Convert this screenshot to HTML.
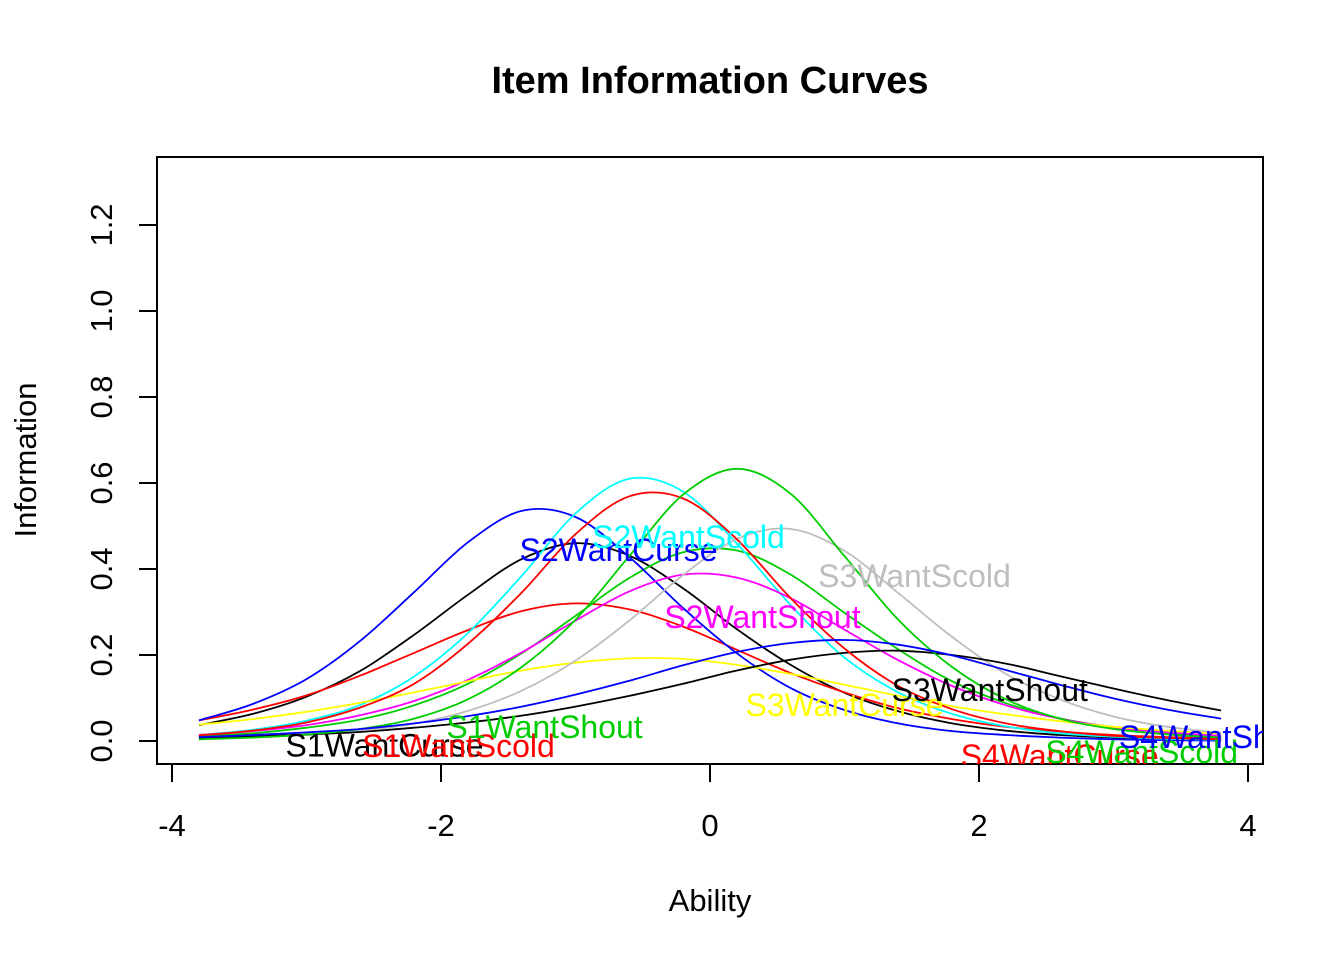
<!DOCTYPE html>
<html><head><meta charset="utf-8"><style>
html,body{margin:0;padding:0;background:#fff;}
svg{display:block;font-family:"Liberation Sans",Arial,sans-serif;}
</style></head><body>
<svg id="chart" width="1344" height="960" viewBox="0 0 1344 960">
<defs><clipPath id="plotclip"><rect x="157" y="157" width="1106" height="607"/></clipPath></defs>
<rect x="0" y="0" width="1344" height="960" fill="#fff"/>
<text x="710" y="93" text-anchor="middle" font-size="38" font-weight="bold">Item Information Curves</text>
<rect x="157" y="157" width="1106" height="607" fill="none" stroke="#000" stroke-width="2"/>
<g id="xaxis"></g>
<g id="yaxis"></g>
<text x="710" y="911" text-anchor="middle" font-size="31">Ability</text>
<text transform="translate(36,460) rotate(-90)" text-anchor="middle" font-size="31">Information</text>
<g id="curves" clip-path="url(#plotclip)"></g>
<g id="labels" clip-path="url(#plotclip)"></g>
</svg>
<script>
const xs = [-3.8,-3.4,-3.0,-2.6,-2.2,-1.8,-1.4,-1.0,-0.6,-0.2,0.2,0.6,1.0,1.4,1.8,2.2,2.6,3.0,3.4,3.8];
const itemNames = ["S1WantCurse","S1WantScold","S1WantShout","S2WantCurse","S2WantScold","S2WantShout","S3WantCurse","S3WantScold","S3WantShout","S4WantCurse","S4WantScold","S4WantShout"];
const itemColors = ["#000000","#ff0000","#00cd00","#0000ff","#00ffff","#ff00ff","#ffff00","#bebebe","#000000","#ff0000","#00cd00","#0000ff"];
const s1Curse = [.037,.063,.103,.163,.247,.340,.423,.460,.431,.355,.260,.177,.112,.069,.041,.024,.014,.008,.005,.003];
const s1Scold = [.048,.073,.106,.152,.205,.258,.302,.320,.306,.266,.212,.158,.113,.076,.051,.033,.022,.014,.009,.006];
const s1Shout = [.011,.018,.031,.050,.083,.133,.204,.291,.379,.439,.443,.387,.298,.213,.139,.088,.053,.032,.019,.011];
const s2Curse = [.048,.086,.144,.233,.346,.462,.535,.521,.428,.309,.204,.123,.072,.041,.023,.014,.008,.004,.002,.001];
const s2Scold = [.014,.026,.047,.084,.150,.251,.384,.529,.610,.580,.459,.316,.194,.113,.063,.034,.018,.010,.005,.003];
const s2Shout = [.014,.023,.037,.060,.093,.142,.206,.280,.348,.387,.380,.332,.259,.188,.128,.083,.052,.032,.020,.012];
const s3Curse = [.038,.051,.068,.089,.113,.139,.164,.182,.192,.191,.177,.156,.131,.105,.081,.062,.046,.033,.024,.017];
const s3Scold = [.005,.008,.014,.024,.040,.070,.117,.187,.280,.386,.470,.493,.442,.344,.242,.156,.097,.057,.033,.019];
const s3Shout = [.008,.011,.015,.021,.031,.043,.059,.080,.105,.133,.164,.189,.205,.210,.200,.180,.151,.122,.095,.071];
const s4Curse = [.013,.024,.043,.078,.133,.226,.345,.481,.569,.564,.469,.332,.215,.128,.074,.041,.023,.012,.007,.004];
const s4Scold = [.004,.008,.015,.028,.052,.097,.172,.282,.430,.573,.633,.575,.430,.282,.172,.097,.052,.028,.015,.008];
const s4Shout = [.009,.014,.020,.028,.041,.058,.080,.108,.140,.176,.207,.228,.235,.224,.199,.165,.131,.099,.073,.052];
const labelX = [-2.42,-1.87,-1.23,-0.68,-0.16,0.39,1.0,1.52,2.08,2.60,3.21,3.77];
const labelY = [-0.01,-0.012,0.033,0.444,0.474,0.288,0.084,0.384,0.119,-0.035,-0.026,0.009];
const xTicks = [-4,-2,0,2,4];
const yTicks = [0,0.2,0.4,0.6,0.8,1.0,1.2];
const yTickLabels = ["0.0","0.2","0.4","0.6","0.8","1.0","1.2"];

const series = [s1Curse,s1Scold,s1Shout,s2Curse,s2Scold,s2Shout,s3Curse,s3Scold,s3Shout,s4Curse,s4Scold,s4Shout];
const NS = "http://www.w3.org/2000/svg";
function sx(v){ return 710 + v*134.5; }
function sy(v){ return 741 - v*430; }

const xg = document.getElementById('xaxis');
const yg = document.getElementById('yaxis');
let xl = document.createElementNS(NS,'line');
xl.setAttribute('x1',sx(xTicks[0])); xl.setAttribute('x2',sx(xTicks[xTicks.length-1]));
xl.setAttribute('y1',764); xl.setAttribute('y2',764); xl.setAttribute('stroke','#000'); xl.setAttribute('stroke-width','2');


xg.appendChild(xl);
xTicks.forEach(function(t){
  const l = document.createElementNS(NS,'line');
  l.setAttribute('x1',sx(t)); l.setAttribute('x2',sx(t)); l.setAttribute('y1',764); l.setAttribute('y2',782);
  l.setAttribute('stroke','#000'); l.setAttribute('stroke-width','2');
  
  
  xg.appendChild(l);
  const tx = document.createElementNS(NS,'text');
  tx.setAttribute('x',sx(t)); tx.setAttribute('y',836); tx.setAttribute('text-anchor','middle'); tx.setAttribute('font-size','31');
  tx.textContent = String(t);
  
  
  xg.appendChild(tx);
});
let yl = document.createElementNS(NS,'line');
yl.setAttribute('x1',157); yl.setAttribute('x2',157);
yl.setAttribute('y1',sy(yTicks[0])); yl.setAttribute('y2',sy(yTicks[yTicks.length-1]));
yl.setAttribute('stroke','#000'); yl.setAttribute('stroke-width','2');


yg.appendChild(yl);
yTicks.forEach(function(t,i){
  const l = document.createElementNS(NS,'line');
  l.setAttribute('x1',139); l.setAttribute('x2',157); l.setAttribute('y1',sy(t)); l.setAttribute('y2',sy(t));
  l.setAttribute('stroke','#000'); l.setAttribute('stroke-width','2');
  
  
  yg.appendChild(l);
  const tx = document.createElementNS(NS,'text');
  tx.setAttribute('transform','translate(112,'+sy(t)+') rotate(-90)');
  tx.setAttribute('text-anchor','middle'); tx.setAttribute('font-size','31');
  tx.textContent = yTickLabels[i];
  
  
  yg.appendChild(tx);
});

function smoothPath(pts){
  let d = 'M'+pts[0][0].toFixed(1)+','+pts[0][1].toFixed(1);
  for(let i=0;i<pts.length-1;i++){
    const p0 = pts[i-1]||pts[i], p1 = pts[i], p2 = pts[i+1], p3 = pts[i+2]||pts[i+1];
    const c1x = p1[0]+(p2[0]-p0[0])/6, c1y = p1[1]+(p2[1]-p0[1])/6;
    const c2x = p2[0]-(p3[0]-p1[0])/6, c2y = p2[1]-(p3[1]-p1[1])/6;
    d += ' C'+c1x.toFixed(1)+','+c1y.toFixed(1)+' '+c2x.toFixed(1)+','+c2y.toFixed(1)+' '+p2[0].toFixed(1)+','+p2[1].toFixed(1);
  }
  return d;
}
const cg = document.getElementById('curves');
series.forEach(function(vals,k){
  const pts = xs.map(function(x,i){ return [sx(x), sy(vals[i])]; });
  const p = document.createElementNS(NS,'path');
  p.setAttribute('d', smoothPath(pts));
  p.setAttribute('fill','none'); p.setAttribute('stroke', itemColors[k]); p.setAttribute('stroke-width','1.8');
  
  
  cg.appendChild(p);
});
const lg = document.getElementById('labels');
itemNames.forEach(function(n,k){
  const t = document.createElementNS(NS,'text');
  t.setAttribute('x', sx(labelX[k])); t.setAttribute('y', sy(labelY[k])+11);
  t.setAttribute('text-anchor','middle'); t.setAttribute('font-size','32'); t.setAttribute('fill', itemColors[k]);
  t.textContent = n;
  
  
  lg.appendChild(t);
});
</script>
</body></html>
